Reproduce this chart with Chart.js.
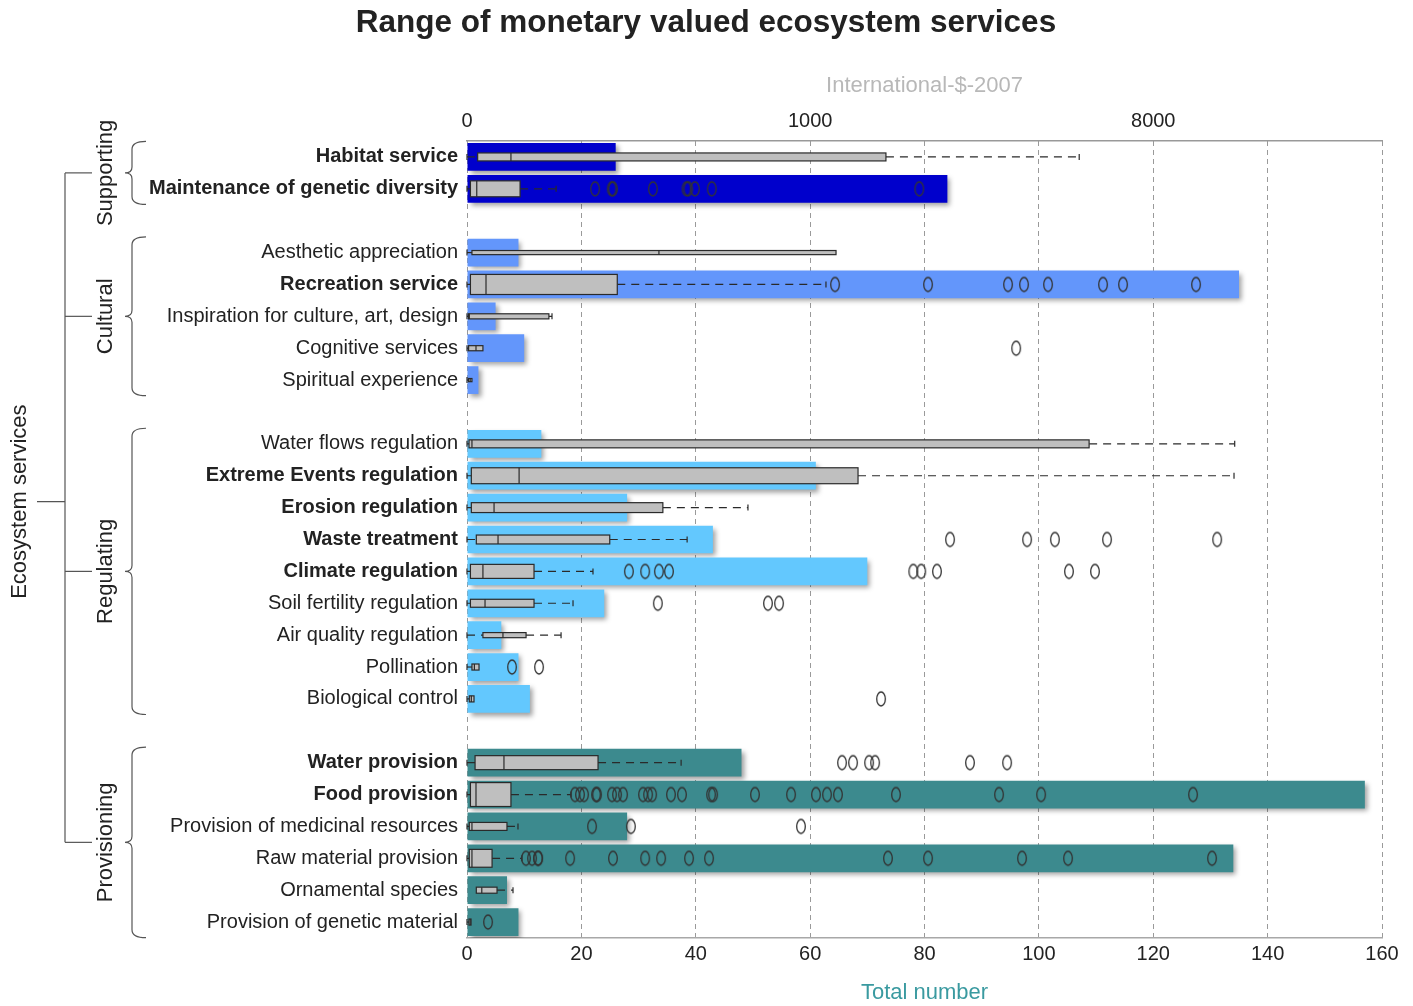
<!DOCTYPE html>
<html>
<head>
<meta charset="utf-8">
<title>Range of monetary valued ecosystem services</title>
<script src="https://cdn.jsdelivr.net/npm/chart.js@4.4.1/dist/chart.umd.min.js"></script>
<style>
  html, body { margin: 0; padding: 0; background: #fff; }
  #wrap { width: 1413px; height: 1006px; position: relative; }
</style>
</head>
<body>
<div id="wrap"><canvas id="chart"></canvas></div>
<script>
"use strict";

// ---- data ----
var services = [
  'Habitat service', 'Maintenance of genetic diversity',
  'Aesthetic appreciation', 'Recreation service', 'Inspiration for culture, art, design',
  'Cognitive services', 'Spiritual experience',
  'Water flows regulation', 'Extreme Events regulation', 'Erosion regulation', 'Waste treatment',
  'Climate regulation', 'Soil fertility regulation', 'Air quality regulation', 'Pollination',
  'Biological control',
  'Water provision', 'Food provision', 'Provision of medicinal resources',
  'Raw material provision', 'Ornamental species', 'Provision of genetic material'
];
var groups = ['Supporting', 'Cultural', 'Regulating', 'Provisioning'];
var groupOf = [0, 0, 1, 1, 1, 1, 1, 2, 2, 2, 2, 2, 2, 2, 2, 2, 3, 3, 3, 3, 3, 3];
var boldNames = ['Habitat service', 'Maintenance of genetic diversity', 'Recreation service',
  'Extreme Events regulation', 'Erosion regulation', 'Waste treatment', 'Climate regulation',
  'Water provision', 'Food provision'];

// total number of studies (bottom axis)
var counts = [26, 84, 9, 135, 5, 10, 2, 13, 61, 28, 43, 70, 24, 6, 9, 11, 48, 157, 28, 134, 7, 9];

// monetary values, International-$-2007 (top axis)
var whiskerLow = [0, 0, 0, 0, 0, 0, 0, 0, 0, 0, 0, 0, 0, 0, 0, 0, 0, 0, 0, 0, 0.02, 0];
var q1 = [0.03, 0.001, 0.003, 0.001, 0.0001, 0.0001, 0.0001, 0.0002, 0.002, 0.002, 0.02, 0.001,
  0.001, 0.1, 0.003, 0.0003, 0.013, 0.001, 0.0003, 0.0003, 0.02, 0.0002];
var median = [2.1, 0.023, 175, 0.17, 0.0003, 0.018, 0.0008, 0.003, 3.5, 0.49, 0.74, 0.1,
  0.145, 1.15, 0.01, 0.002, 1.25, 0.018, 0.003, 0.003, 0.08, 0.0008];
var q3 = [1820, 3.7, 1244, 84, 13.6, 0.1, 0.003, 5960, 1480, 186, 72, 7.45,
  7.45, 5.1, 0.043, 0.0085, 55.7, 2.1, 1.58, 0.39, 0.67, 0.0016];
var whiskerHigh = [5680, 17.5, 1244, 1145, 15.2, 0.1, 0.003, 11200, 11170, 549, 264, 49.5,
  29.5, 20.6, 0.043, 0.0085, 243, 27.9, 3.28, 4.1, 2.41, 0.0016];
var outliers = [
  [],
  [52, 75, 77, 159, 262, 268, 293, 363, 2290],
  [],
  [1234, 2426, 3920, 4279, 4856, 6370, 6990, 9592],
  [],
  [4100],
  [],
  [],
  [],
  [],
  [2790, 4350, 5030, 6490, 10450],
  [105, 140, 175, 204, 2200, 2320, 2570, 5400, 6130],
  [172, 675, 752],
  [],
  [2.26, 9.24],
  [1757],
  [1306, 1424, 1609, 1682, 3150, 3900],
  [31.2, 35.7, 39.7, 53.2, 54.4, 75.5, 83.6, 94, 135, 147, 157, 210, 246, 360, 369, 591, 842,
    1052, 1155, 1264, 1954, 3728, 4683, 9474],
  [48.4, 109, 922],
  [5.08, 6.8, 8.86, 8.9, 27.1, 77, 140, 181, 271, 351, 1847, 2426, 4233, 5375, 10237],
  [],
  [0.23]
];

// styling
var groupColors = ['#0000cc', '#6396fb', '#63c8fe', '#3c8a8e'];
var boxThick = [0.25, 0.5, 0.13, 0.63, 0.16, 0.16, 0.1, 0.25, 0.5, 0.31, 0.28, 0.44,
  0.25, 0.16, 0.19, 0.19, 0.44, 0.75, 0.25, 0.56, 0.19, 0.19];
var FONT = '"Liberation Sans", Arial, Helvetica, sans-serif';
var INK = '#222';

// rows of the category axis, with an empty row between groups
var rowLabels = [], rowIndex = [];
services.forEach(function (s, i) {
  if (i > 0 && groupOf[i] !== groupOf[i - 1]) rowLabels.push('');
  rowIndex.push(rowLabels.length);
  rowLabels.push(s);
});
var rowCounts = rowLabels.map(function () { return null; });
var rowColors = rowLabels.map(function () { return 'rgba(0,0,0,0)'; });
services.forEach(function (s, i) {
  rowCounts[rowIndex[i]] = counts[i];
  rowColors[rowIndex[i]] = groupColors[groupOf[i]];
});

var outlierPoints = [];
services.forEach(function (s, i) {
  outliers[i].forEach(function (v) {
    outlierPoints.push({ x: Math.cbrt(v), y: s });
  });
});

// open ellipse used as the outlier marker
var ring = document.createElement('canvas');
ring.width = 12; ring.height = 18;
var rc = ring.getContext('2d');
rc.strokeStyle = '#333';
rc.lineWidth = 1.3;
rc.beginPath();
rc.ellipse(6, 9, 4.3, 7, 0, 0, Math.PI * 2);
rc.stroke();

function drawBoxes(chart) {
  var c = chart.ctx, xs = chart.scales.x2, ys = chart.scales.y;
  var rowH = ys.getPixelForValue(1) - ys.getPixelForValue(0);
  var px = function (v) { return xs.getPixelForValue(Math.cbrt(v)); };
  services.forEach(function (s, i) {
    var y = ys.getPixelForValue(rowIndex[i]);
    var h = boxThick[i] * rowH;
    var lo = px(whiskerLow[i]), a = px(q1[i]), m = px(median[i]), b = px(q3[i]), hi = px(whiskerHigh[i]);
    c.save();
    c.strokeStyle = '#2a2a2a';
    c.lineWidth = 1.2;
    c.setLineDash([8, 6]);
    c.beginPath();
    if (a - lo > 1) { c.moveTo(lo, y); c.lineTo(a, y); }
    if (hi - b > 1) { c.moveTo(b, y); c.lineTo(hi, y); }
    c.stroke();
    c.setLineDash([]);
    c.beginPath();
    if (a - lo > 1) { c.moveTo(lo, y - 3); c.lineTo(lo, y + 3); }
    if (hi - b > 1) { c.moveTo(hi, y - 3); c.lineTo(hi, y + 3); }
    c.stroke();
    c.fillStyle = '#bfbfbf';
    c.fillRect(a, y - h / 2, Math.max(b - a, 2), h);
    c.strokeRect(a, y - h / 2, Math.max(b - a, 2), h);
    c.beginPath();
    c.moveTo(m, y - h / 2);
    c.lineTo(m, y + h / 2);
    c.stroke();
    c.restore();
  });
}

function drawBrace(c, x, top, bot) {
  var mid = (top + bot) / 2, w = 14, r = 8;
  c.beginPath();
  c.moveTo(x + w, top);
  c.quadraticCurveTo(x, top, x, top + r);
  c.lineTo(x, mid - 6);
  c.quadraticCurveTo(x, mid, x - 7, mid);
  c.quadraticCurveTo(x, mid, x, mid + 6);
  c.lineTo(x, bot - r);
  c.quadraticCurveTo(x, bot, x + w, bot);
  c.stroke();
}

var barsAndBoxes = {
  id: 'barsAndBoxes',
  beforeDatasetDraw: function (chart, args) {
    if (args.index !== 0) return;
    var c = chart.ctx;
    c.save();
    c.shadowColor = 'rgba(0,0,0,0.38)';
    c.shadowBlur = 5;
    c.shadowOffsetX = 3;
    c.shadowOffsetY = 3;
  },
  afterDatasetDraw: function (chart, args) {
    if (args.index !== 0) return;
    chart.ctx.restore();
    drawBoxes(chart);
  }
};

// braces, group names and the tree on the left
var hierarchy = {
  id: 'hierarchy',
  afterDraw: function (chart) {
    var c = chart.ctx, ys = chart.scales.y;
    var rowH = ys.getPixelForValue(1) - ys.getPixelForValue(0);
    var mids = [];
    c.save();
    c.strokeStyle = '#555';
    c.lineWidth = 1.2;
    c.fillStyle = INK;
    c.font = '22px ' + FONT;
    c.textAlign = 'center';
    c.textBaseline = 'middle';
    groups.forEach(function (g, k) {
      var idx = [];
      groupOf.forEach(function (gg, i) { if (gg === k) idx.push(rowIndex[i]); });
      var top = ys.getPixelForValue(idx[0]) - rowH * 0.49;
      var bot = ys.getPixelForValue(idx[idx.length - 1]) + rowH * 0.49;
      var mid = (top + bot) / 2;
      mids.push(mid);
      drawBrace(c, 132, top, bot);
      c.save();
      c.translate(106, mid);
      c.rotate(-Math.PI / 2);
      c.fillText(g, 0, 0);
      c.restore();
      c.beginPath();
      c.moveTo(65, mid);
      c.lineTo(92, mid);
      c.stroke();
    });
    c.beginPath();
    c.moveTo(65, mids[0]);
    c.lineTo(65, mids[mids.length - 1]);
    var rootMid = (mids[0] + mids[mids.length - 1]) / 2 - 6;
    c.moveTo(37, rootMid);
    c.lineTo(65, rootMid);
    c.stroke();
    c.save();
    c.translate(20, rootMid);
    c.rotate(-Math.PI / 2);
    c.fillText('Ecosystem services', 0, 0);
    c.restore();
    c.restore();
  }
};

var ctx = document.getElementById('chart').getContext('2d');
var chart = new Chart(ctx, {
  type: 'bar',
  data: {
    labels: rowLabels,
    datasets: [{
      type: 'bar',
      indexAxis: 'y',
      label: 'Total number',
      data: rowCounts,
      backgroundColor: rowColors,
      borderWidth: 0,
      xAxisID: 'x',
      yAxisID: 'y',
      barPercentage: 0.87,
      categoryPercentage: 1,
      grouped: false,
      order: 2
    }, {
      type: 'scatter',
      label: 'Outliers',
      data: outlierPoints,
      xAxisID: 'x2',
      yAxisID: 'y',
      pointStyle: ring,
      pointRadius: 7,
      order: 1
    }]
  },
  options: {
    responsive: true,
    maintainAspectRatio: false,
    animation: false,
    layout: { padding: { top: 0, left: 30, right: 31, bottom: 0 } },
    plugins: {
      legend: { display: false },
      tooltip: { enabled: false },
      title: {
        display: true,
        text: 'Range of monetary valued ecosystem services',
        color: INK,
        font: { family: FONT, size: 31.5, weight: 'bold' },
        padding: { top: 4, bottom: 17.4 }
      }
    },
    scales: {
      x: {
        type: 'linear',
        position: 'bottom',
        offset: false,
        min: 0,
        max: 160,
        afterFit: function (s) { s.height = 68; },
        ticks: { stepSize: 20, color: INK, font: { family: FONT, size: 20 }, padding: 4 },
        grid: { offset: false, color: '#9a9a9a', lineWidth: 1, drawTicks: false },
        // in Chart.js v4 the dash here styles the grid lines
        border: { display: true, color: '#a8a8a8', width: 1.5, dash: [5, 4] },
        title: {
          display: true,
          text: 'Total number',
          color: '#3a9aa0',
          font: { family: FONT, size: 22 },
          padding: { top: 0, bottom: 0 }
        }
      },
      x2: {
        type: 'linear',
        position: 'top',
        offset: false,
        min: 0,
        max: 80 / 3,
        afterFit: function (s) { s.height = 81.8; },
        afterBuildTicks: function (s) {
          s.ticks = [0, 10, 20].map(function (v) { return { value: v }; });
        },
        ticks: {
          color: INK,
          font: { family: FONT, size: 20 },
          padding: 8,
          callback: function (v) { return String(Math.round(v * v * v)); }
        },
        grid: { display: false, offset: false, drawTicks: false },
        border: { display: true, color: '#999', width: 1.5 },
        title: {
          display: true,
          text: 'International-$-2007',
          color: '#b8b8b8',
          font: { family: FONT, size: 22 },
          padding: { top: 13.6, bottom: 0 }
        }
      },
      y: {
        type: 'category',
        offset: true,
        afterFit: function (s) { s.width = 437; },
        grid: { display: false, offset: true, drawTicks: false },
        border: { display: false },
        ticks: {
          autoSkip: false,
          color: INK,
          padding: 9,
          font: function (c) {
            var lab = c.tick && c.tick.label;
            return { family: FONT, size: 20, weight: boldNames.indexOf(lab) >= 0 ? 'bold' : 'normal' };
          }
        }
      }
    }
  },
  plugins: [barsAndBoxes, hierarchy]
});
</script>
</body>
</html>
